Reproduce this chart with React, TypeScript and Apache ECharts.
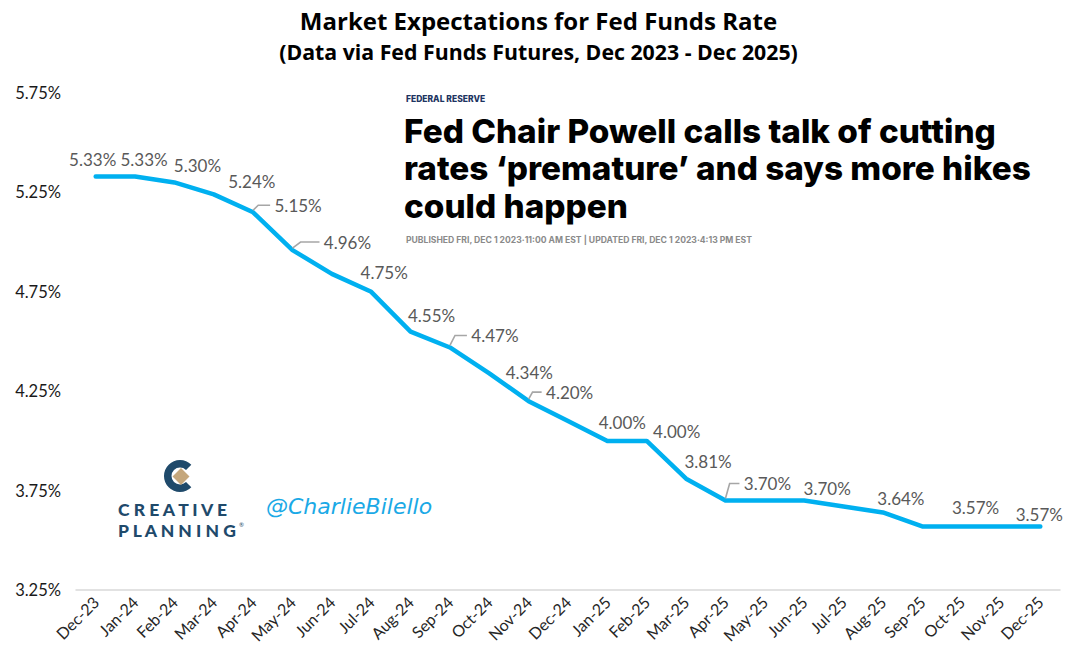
import React, { useEffect, useRef } from "react";
import * as echarts from "echarts";

const categories = [
  "Dec-23", "Jan-24", "Feb-24", "Mar-24", "Apr-24", "May-24", "Jun-24", "Jul-24", "Aug-24",
  "Sep-24", "Oct-24", "Nov-24", "Dec-24", "Jan-25", "Feb-25", "Mar-25", "Apr-25", "May-25",
  "Jun-25", "Jul-25", "Aug-25", "Sep-25", "Oct-25", "Nov-25", "Dec-25",
];
const rates = [
  5.33, 5.33, 5.3, 5.24, 5.15, 4.96, 4.84, 4.75, 4.55, 4.47, 4.34, 4.2, 4.1, 4.0, 4.0, 3.81,
  3.7, 3.7, 3.7, 3.67, 3.64, 3.57, 3.57, 3.57, 3.57,
];
const showLabel = [
  true, true, true, true, true, true, false, true, true, true, true, true, false, true, true,
  true, true, false, true, false, true, false, true, false, true,
];
const yMin = 3.25;
const yMax = 5.75;
const yStep = 0.5;

// label layout: offset (px) of the label centre from its point
const labelOffsets: [number, number][] = [
  [-3, -17], [9, -17], [23, -17], [38, -13], [45, -7], [55, -8], [0, 0], [13, -19], [21, -16],
  [45, -12], [40, -1], [41, -9], [0, 0], [15, -18], [30, -9], [22, -17], [42, -17], [0, 0],
  [23, -12], [0, 0], [18, -14], [0, 0], [14, -19], [0, 0], [-1, -12],
];
const leaderIdx = [4, 5, 9, 11, 16];

const NAVY = "#1f4a6b";

export default function App() {
  const ref = useRef<HTMLDivElement>(null);
  useEffect(() => {
    document.body.style.margin = "0";
    const chart = echarts.init(ref.current!, null, { renderer: "svg" });
    const option: any = {
      animation: false,
      backgroundColor: "#ffffff",
      title: {
        text: "Market Expectations for Fed Funds Rate",
        subtext: "(Data via Fed Funds Futures, Dec 2023 - Dec 2025)",
        left: "center",
        top: 3,
        itemGap: 9,
        textStyle: { fontFamily: "Open Sans", fontWeight: "bold", fontSize: 24, color: "#000" },
        subtextStyle: { fontFamily: "Open Sans", fontWeight: "bold", fontSize: 21.3, color: "#000" },
      },
      grid: { left: 76, right: 17, top: 93, bottom: 73 },
      xAxis: {
        type: "category",
        data: categories,
        boundaryGap: true,
        axisLine: { lineStyle: { color: "#d9d9d9", width: 1.5 } },
        axisTick: { show: false },
        axisLabel: {
          rotate: 45,
          interval: 0,
          color: "#262626",
          fontSize: 16,
          fontFamily: "Lato",
          margin: 9,
        },
      },
      yAxis: {
        type: "value",
        min: yMin,
        max: yMax,
        interval: yStep,
        axisLine: { show: false },
        axisTick: { show: false },
        splitLine: { show: false },
        axisLabel: {
          formatter: (v: number) => v.toFixed(2) + "%",
          color: "#1a1a1a",
          fontSize: 16.5,
          fontFamily: "Lato",
          margin: 15,
        },
      },
      series: [
        {
          type: "line",
          data: rates,
          showSymbol: false,
          lineStyle: { color: "#00B0F0", width: 4.5, cap: "round", join: "round" },
          z: 2,
        },
        {
          type: "custom",
          data: rates.map((v, i) => [i, v]),
          encode: { x: 0, y: 1 },
          z: 3,
          renderItem: (params: any, api: any) => {
            const i = params.dataIndex;
            if (!showLabel[i]) return null;
            const p = api.coord([api.value(0), api.value(1)]);
            const [dx, dy] = labelOffsets[i];
            const cx = p[0] + dx;
            const cy = p[1] + dy;
            const children: any[] = [
              {
                type: "text",
                x: cx,
                y: cy,
                style: {
                  text: rates[i].toFixed(2) + "%",
                  fill: "#595959",
                  font: "17px Lato",
                  align: "center",
                  verticalAlign: "middle",
                },
              },
            ];
            if (leaderIdx.indexOf(i) >= 0) {
              const left = cx - 28;
              children.push({
                type: "polyline",
                shape: {
                  points: [
                    [p[0], p[1] - 2],
                    [p[0] + (left - p[0]) * 0.3, cy],
                    [left, cy],
                  ],
                },
                style: { stroke: "#a6a6a6", lineWidth: 1.6, fill: null },
              });
            }
            return { type: "group", children };
          },
        },
      ],
      graphic: [
        {
          type: "text",
          left: 406,
          top: 94,
          style: { text: "FEDERAL RESERVE", font: "800 8.5px Inter", fill: "#1d3461" },
        },
        {
          type: "text",
          left: 404,
          top: 112,
          style: {
            text: "Fed Chair Powell calls talk of cutting\nrates \u2018premature\u2019 and says more hikes\ncould happen",
            font: "800 33.3px Inter",
            lineHeight: 37.5,
            fill: "#000",
          },
        },
        {
          type: "text",
          left: 406,
          top: 235,
          style: {
            text: "PUBLISHED FRI, DEC 1 2023\u00b711:00 AM EST | UPDATED FRI, DEC 1 2023\u00b74:13 PM EST",
            font: "bold 8.6px Inter",
            fill: "#8a8a8a",
          },
        },
        {
          type: "sector",
          shape: {
            cx: 180,
            cy: 476,
            r: 16,
            r0: 8.5,
            startAngle: Math.PI / 4,
            endAngle: (Math.PI * 7) / 4,
            clockwise: true,
          },
          style: { fill: NAVY },
        },
        {
          type: "polygon",
          shape: { points: [[181, 468], [189.5, 476.5], [181, 485], [172.5, 476.5]] },
          style: { fill: "#c5a77c" },
        },
        {
          type: "text",
          left: 118,
          top: 500,
          style: { text: "C R E A T I V E", font: "900 17.5px Lato", lineHeight: 17, fill: NAVY },
        },
        {
          type: "text",
          left: 118,
          top: 521,
          style: { text: "P L A N N I N G", font: "900 17.5px Lato", lineHeight: 17, fill: NAVY },
        },
        {
          type: "text",
          left: 239,
          top: 521,
          style: { text: "\u00ae", font: "6px Lato", lineHeight: 6, fill: NAVY },
        },
        {
          type: "text",
          left: 266,
          top: 495,
          style: {
            text: "@CharlieBilello",
            font: "italic 22px 'DejaVu Sans'",
            fill: "#1aa9e6",
          },
        },
      ],
    };
    chart.setOption(option);
    return () => chart.dispose();
  }, []);
  return <div ref={ref} style={{ width: 1077, height: 663 }} />;
}
